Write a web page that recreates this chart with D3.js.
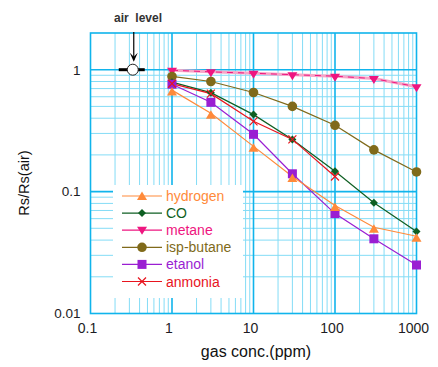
<!DOCTYPE html>
<html><head><meta charset="utf-8">
<script src="https://cdn.jsdelivr.net/npm/d3@7"></script>
<style>body{margin:0;background:#fff}svg{display:block;font-family:"Liberation Sans",Arial,sans-serif}</style>
</head><body><svg id="c" width="438" height="367"></svg>
<script>
const conc = [1, 3, 10, 30, 100, 300, 1000];
const hydrogen = [0.68, 0.44, 0.235, 0.133, 0.077, 0.051, 0.043];
const co = [0.79, 0.648, 0.428, 0.268, 0.147, 0.081, 0.047];
const metane = [0.99, 0.96, 0.935, 0.91, 0.885, 0.845, 0.725];
const ispButane = [0.88, 0.80, 0.65, 0.50, 0.35, 0.22, 0.145];
const etanol = [0.76, 0.54, 0.295, 0.14, 0.066, 0.041, 0.025];
const anmonia = [0.768, 0.636, 0.377, 0.268, 0.133];
const xTicks = [0.1, 1, 10, 100, 1000];
const yTicks = [0.01, 0.1, 1];
const airLevel = {x: 0.33, y: 1};

const series = [
  {name: "hydrogen", values: hydrogen, color: "#ff8a3a", marker: "up"},
  {name: "CO", values: co, color: "#0f5f23", marker: "diamond"},
  {name: "metane", values: metane, color: "#ee1680", marker: "down"},
  {name: "isp-butane", values: ispButane, color: "#806a1a", marker: "circle"},
  {name: "etanol", values: etanol, color: "#9a1ed2", marker: "square"},
  {name: "anmonia", values: anmonia, color: "#e8141e", marker: "cross"}
];

const svg = d3.select("#c");
const L = 90.5, R = 416.5, T = 33, B = 313.5;
const x = d3.scaleLog().domain([0.1, 1000]).range([L, R]);
const y = d3.scaleLog().domain([0.01, 2]).range([B, T]);
const minorC = "#84dcf6", majorC = "#10b4ec";

// grid
const g = svg.append("g");
const xMinor = [], yMinor = [];
[0.1, 1, 10, 100].forEach(d => { for (let k = 2; k <= 9; k++) xMinor.push(k * d); });
[0.01, 0.1].forEach(d => { for (let k = 2; k <= 9; k++) yMinor.push(k * d); });
g.selectAll(".vx").data(xMinor).join("line")
  .attr("x1", d => x(d)).attr("x2", d => x(d)).attr("y1", T).attr("y2", B)
  .attr("stroke", minorC).attr("stroke-width", 1);
g.selectAll(".hy").data(yMinor).join("line")
  .attr("y1", d => y(d)).attr("y2", d => y(d)).attr("x1", L).attr("x2", R)
  .attr("stroke", minorC).attr("stroke-width", 1);
g.selectAll(".vM").data([1, 10, 100]).join("line")
  .attr("x1", d => x(d)).attr("x2", d => x(d)).attr("y1", T).attr("y2", B)
  .attr("stroke", majorC).attr("stroke-width", 1.6);
g.selectAll(".hM").data([0.1, 1]).join("line")
  .attr("y1", d => y(d)).attr("y2", d => y(d)).attr("x1", L).attr("x2", R)
  .attr("stroke", majorC).attr("stroke-width", 1.6);
g.append("rect").attr("x", L).attr("y", T).attr("width", R - L).attr("height", B - T)
  .attr("fill", "none").attr("stroke", majorC).attr("stroke-width", 1.6);

// legend box (covers grid)
const lx = 113, ly = 185;
svg.append("rect").attr("x", lx).attr("y", ly).attr("width", 130).attr("height", 113).attr("fill", "#fff");

// axes
const xa = svg.append("g").attr("transform", `translate(0,${B})`)
  .call(d3.axisBottom(x).tickValues(xTicks).tickSize(0).tickPadding(10).tickFormat(d3.format("~g")));
xa.select(".domain").remove();
xa.selectAll("text").attr("font-size", 14).attr("fill", "#1c1c24").attr("dx", -3.5)
  .attr("font-family", "Liberation Sans, Arial, sans-serif");
const ya = svg.append("g").attr("transform", `translate(${L},0)`)
  .call(d3.axisLeft(y).tickValues(yTicks).tickSize(0).tickPadding(10).tickFormat(d3.format("~g")));
ya.select(".domain").remove();
ya.selectAll("text").attr("font-size", 13.5).attr("fill", "#1c1c24")
  .attr("font-family", "Liberation Sans, Arial, sans-serif");

svg.append("text").attr("x", 256).attr("y", 357).attr("text-anchor", "middle")
  .attr("font-size", 16).attr("fill", "#111").text("gas conc.(ppm)");
svg.append("text").attr("transform", "translate(29,183) rotate(-90)").attr("text-anchor", "middle")
  .attr("font-size", 14.5).attr("fill", "#111").text("Rs/Rs(air)");

// markers
function drawMarker(sel, type, color) {
  if (type === "up") sel.append("path").attr("d", "M0,-3L5,5.5L-5,5.5Z").attr("fill", color);
  else if (type === "down") sel.append("path").attr("d", "M-5,-2.5L5,-2.5L0,5.5Z").attr("fill", color);
  else if (type === "diamond") sel.append("path").attr("d", "M0,-4L4,0L0,4L-4,0Z").attr("fill", color);
  else if (type === "circle") sel.append("circle").attr("r", 4.8).attr("fill", color);
  else if (type === "square") sel.append("rect").attr("x", -4.5).attr("y", -4.5).attr("width", 9).attr("height", 9).attr("fill", color);
  else if (type === "cross") sel.append("path").attr("d", "M-4,-4L4,4M-4,4L4,-4").attr("stroke", color).attr("stroke-width", 1.2).attr("fill", "none");
}

const line = d3.line().x(d => x(d[0])).y(d => y(d[1]));
const drawOrder = ["metane", "isp-butane", "CO", "etanol", "hydrogen", "anmonia"];
const byName = Object.fromEntries(series.map(s => [s.name, s]));
drawOrder.forEach(n => {
  const s = byName[n];
  const pts = s.values.map((v, i) => [conc[i], v]);
  if (n === "metane") {
    svg.append("path").attr("d", line(pts)).attr("fill", "none").attr("stroke", "#f7a6c8").attr("stroke-width", 3);
    svg.append("path").attr("d", line(pts)).attr("fill", "none").attr("stroke", s.color).attr("stroke-width", 1).attr("stroke-dasharray", "6,5");
  } else {
    svg.append("path").attr("d", line(pts)).attr("fill", "none").attr("stroke", s.color).attr("stroke-width", 1.2);
  }
});
drawOrder.forEach(n => {
  const s = byName[n];
  s.values.forEach((v, i) => {
    const m = svg.append("g").attr("transform", `translate(${x(conc[i])},${y(v)})`);
    drawMarker(m, s.marker, s.color);
  });
});

// legend entries
series.forEach((s, i) => {
  const yy = 196 + i * 17.1;
  svg.append("line").attr("x1", 122).attr("x2", 162).attr("y1", yy).attr("y2", yy)
    .attr("stroke", s.color).attr("stroke-width", 1.2);
  const m = svg.append("g").attr("transform", `translate(142,${yy - (s.marker === "up" ? 1.5 : s.marker === "down" ? 1 : 0)})`);
  drawMarker(m, s.marker, s.color);
  svg.append("text").attr("x", 166).attr("y", yy + 5).attr("font-size", 14).attr("fill", s.color).text(s.name);
});

// air level
const ax = x(airLevel.x), ay = y(airLevel.y);
svg.append("line").attr("x1", ax - 14).attr("x2", ax + 12).attr("y1", ay).attr("y2", ay)
  .attr("stroke", "#000").attr("stroke-width", 3);
svg.append("circle").attr("cx", ax).attr("cy", ay).attr("r", 5.5).attr("fill", "#fff").attr("stroke", "#222").attr("stroke-width", 1);
svg.append("line").attr("x1", ax + 1).attr("x2", ax + 1).attr("y1", 32).attr("y2", ay - 10)
  .attr("stroke", "#000").attr("stroke-width", 1.2);
svg.append("path").attr("d", `M${ax + 1 - 4},${ay - 17}L${ax + 1},${ay - 8}L${ax + 1 + 4},${ay - 17}L${ax + 1},${ay - 13}Z`).attr("fill", "#000");
svg.append("text").attr("x", 138).attr("y", 22).attr("text-anchor", "middle")
  .attr("font-size", 12).attr("font-weight", "bold").attr("fill", "#333")
  .attr("xml:space", "preserve").style("white-space", "pre").text("air  level");
</script></body></html>
